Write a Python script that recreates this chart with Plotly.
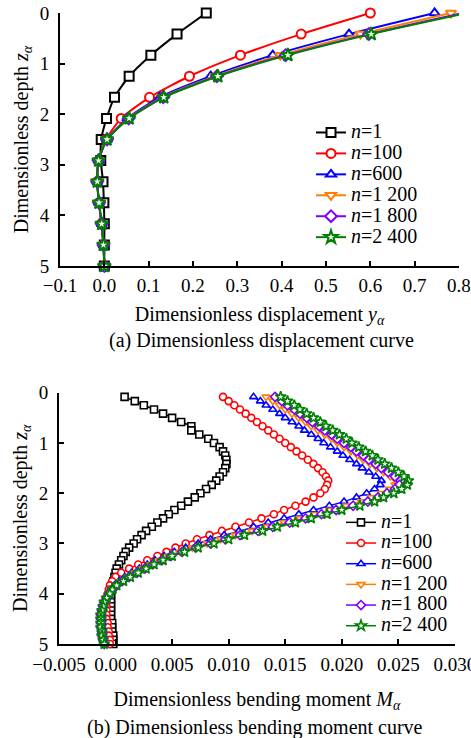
import plotly.graph_objects as go

# ---------------- data: (a) displacement ----------------
depth_a = [0.0, 0.417, 0.833, 1.25, 1.667, 2.083, 2.5, 2.917, 3.333, 3.75, 4.167, 4.583, 5.0]
disp_n1 = [0.230, 0.164, 0.105, 0.056, 0.023, 0.005, -0.007, -0.008, -0.003, -0.001, 0.000, 0.000, 0.000]
disp_n100 = [0.600, 0.444, 0.307, 0.192, 0.102, 0.038, 0.004, -0.012, -0.016, -0.012, -0.007, -0.002, 0.000]
disp_n600 = [0.745, 0.552, 0.380, 0.240, 0.125, 0.052, 0.006, -0.013, -0.016, -0.012, -0.006, -0.002, 0.000]
disp_n1200 = [0.782, 0.578, 0.397, 0.250, 0.131, 0.054, 0.006, -0.013, -0.016, -0.012, -0.006, -0.002, 0.000]
disp_n1800 = [0.809, 0.597, 0.409, 0.254, 0.133, 0.055, 0.006, -0.013, -0.016, -0.012, -0.006, -0.002, 0.000]
disp_n2400 = [0.819, 0.602, 0.414, 0.256, 0.134, 0.056, 0.006, -0.013, -0.016, -0.012, -0.006, -0.002, 0.000]

# ---------------- data: (b) bending moment ----------------
depth_b = [0.083, 0.167, 0.25, 0.333, 0.417, 0.5, 0.583, 0.667, 0.75, 0.833,
           0.917, 1.0, 1.083, 1.167, 1.25, 1.333, 1.417, 1.5, 1.583, 1.667,
           1.75, 1.833, 1.917, 2.0, 2.083, 2.167, 2.25, 2.333, 2.417, 2.5,
           2.583, 2.667, 2.75, 2.833, 2.917, 3.0, 3.083, 3.167, 3.25, 3.333,
           3.417, 3.5, 3.583, 3.667, 3.75, 3.833, 3.917, 4.0, 4.083, 4.167,
           4.25, 4.333, 4.417, 4.5, 4.583, 4.667, 4.75, 4.833, 4.917, 5.0]
mom_n1 = [0.0008, 0.0017, 0.0025, 0.0034, 0.0042, 0.0050, 0.0058, 0.0067, 0.0067, 0.0074,
          0.0082, 0.0087, 0.0092, 0.0095, 0.0097, 0.0098, 0.0098, 0.0097, 0.0095, 0.0092,
          0.0089, 0.0085, 0.0080, 0.0075, 0.0070, 0.0064, 0.0058, 0.0052, 0.0047, 0.0042,
          0.0037, 0.0032, 0.0027, 0.0023, 0.0019, 0.0016, 0.0012, 0.0009, 0.0007, 0.0005,
          0.0003, 0.0001, 0.0000, -0.0001, -0.0002, -0.0003, -0.0003, -0.0004, -0.0004, -0.0004,
          -0.0004, -0.0004, -0.0004, -0.0004, -0.0003, -0.0003, -0.0003, -0.0002, -0.0002, -0.0002]
mom_n100 = [0.0095, 0.0100, 0.0105, 0.0110, 0.0115, 0.0120, 0.0125, 0.0130, 0.0135, 0.0140,
            0.0145, 0.0150, 0.0155, 0.0160, 0.0165, 0.0170, 0.0175, 0.0179, 0.0183, 0.0186,
            0.0188, 0.0187, 0.0185, 0.0181, 0.0175, 0.0168, 0.0159, 0.0149, 0.0140, 0.0129,
            0.0118, 0.0106, 0.0094, 0.0083, 0.0072, 0.0062, 0.0053, 0.0045, 0.0037, 0.0028,
            0.0020, 0.0012, 0.0005, 0.0000, -0.0003, -0.0005, -0.0006, -0.0007, -0.0008, -0.0008,
            -0.0008, -0.0008, -0.0008, -0.0008, -0.0007, -0.0007, -0.0006, -0.0006, -0.0005, -0.0005]
mom_n600 = [0.0122, 0.0128, 0.0133, 0.0139, 0.0145, 0.0150, 0.0156, 0.0162, 0.0167, 0.0173,
            0.0179, 0.0184, 0.0190, 0.0196, 0.0201, 0.0207, 0.0213, 0.0218, 0.0224, 0.0230,
            0.0235, 0.0234, 0.0229, 0.0222, 0.0213, 0.0202, 0.0189, 0.0175, 0.0162, 0.0149,
            0.0135, 0.0122, 0.0109, 0.0096, 0.0084, 0.0073, 0.0062, 0.0052, 0.0043, 0.0035,
            0.0028, 0.0021, 0.0014, 0.0008, 0.0003, -0.0001, -0.0004, -0.0006, -0.0008, -0.0010,
            -0.0011, -0.0012, -0.0012, -0.0012, -0.0012, -0.0012, -0.0012, -0.0011, -0.0011, -0.0010]
mom_n1200 = [0.0133, 0.0139, 0.0145, 0.0150, 0.0156, 0.0162, 0.0168, 0.0173, 0.0179, 0.0185,
             0.0191, 0.0196, 0.0202, 0.0208, 0.0214, 0.0219, 0.0225, 0.0231, 0.0237, 0.0243,
             0.0248, 0.0247, 0.0242, 0.0235, 0.0226, 0.0217, 0.0204, 0.0189, 0.0176, 0.0163,
             0.0149, 0.0134, 0.0121, 0.0106, 0.0093, 0.0081, 0.0068, 0.0057, 0.0047, 0.0039,
             0.0031, 0.0024, 0.0017, 0.0011, 0.0005, 0.0000, -0.0004, -0.0006, -0.0008, -0.0010,
             -0.0011, -0.0012, -0.0013, -0.0013, -0.0013, -0.0013, -0.0012, -0.0012, -0.0011, -0.0010]
mom_n1800 = [0.0141, 0.0147, 0.0152, 0.0158, 0.0163, 0.0169, 0.0174, 0.0180, 0.0185, 0.0191,
             0.0196, 0.0202, 0.0208, 0.0213, 0.0219, 0.0224, 0.0230, 0.0235, 0.0241, 0.0247,
             0.0252, 0.0251, 0.0247, 0.0240, 0.0232, 0.0223, 0.0210, 0.0195, 0.0182, 0.0168,
             0.0154, 0.0139, 0.0126, 0.0110, 0.0097, 0.0084, 0.0071, 0.0059, 0.0049, 0.0041,
             0.0033, 0.0026, 0.0019, 0.0012, 0.0006, 0.0001, -0.0003, -0.0006, -0.0008, -0.0010,
             -0.0011, -0.0012, -0.0013, -0.0013, -0.0013, -0.0013, -0.0012, -0.0012, -0.0011, -0.0010]
mom_n2400 = [0.0146, 0.0152, 0.0158, 0.0163, 0.0169, 0.0175, 0.0181, 0.0186, 0.0192, 0.0198,
             0.0204, 0.0209, 0.0215, 0.0221, 0.0227, 0.0232, 0.0238, 0.0244, 0.0250, 0.0255,
             0.0259, 0.0258, 0.0253, 0.0246, 0.0237, 0.0229, 0.0216, 0.0200, 0.0187, 0.0173,
             0.0159, 0.0143, 0.0130, 0.0114, 0.0100, 0.0087, 0.0073, 0.0061, 0.0050, 0.0042,
             0.0034, 0.0027, 0.0020, 0.0013, 0.0007, 0.0001, -0.0003, -0.0005, -0.0008, -0.0010,
             -0.0011, -0.0012, -0.0013, -0.0013, -0.0013, -0.0013, -0.0012, -0.0012, -0.0011, -0.0010]

series_names = ["<i>n</i>=1", "<i>n</i>=100", "<i>n</i>=600",
                "<i>n</i>=1 200", "<i>n</i>=1 800", "<i>n</i>=2 400"]
colors = ["#000000", "#ff0000", "#0000ff", "#ff8000", "#8000ff", "#008000"]
symbols = ["square", "circle", "triangle-up", "triangle-down", "diamond", "star"]

disp_series = [disp_n1, disp_n100, disp_n600, disp_n1200, disp_n1800, disp_n2400]
mom_series = [mom_n1, mom_n100, mom_n600, mom_n1200, mom_n1800, mom_n2400]

FONT = "Liberation Serif, Times New Roman, serif"
W, H = 471, 738

fig = go.Figure()

for name, col, sym, vals in zip(series_names, colors, symbols, disp_series):
    fig.add_trace(go.Scatter(
        x=vals, y=depth_a, mode="lines+markers",
        name='<span style="font-size:20px">' + name + '</span>',
        line=dict(color=col, width=2, shape="spline", smoothing=0.6),
        marker=dict(symbol=sym, size=9 if sym != "star" else 10, color="white",
                    line=dict(color=col, width=2)),
        cliponaxis=False, xaxis="x", yaxis="y", legend="legend"))

for name, col, sym, vals in zip(series_names, colors, symbols, mom_series):
    fig.add_trace(go.Scatter(
        x=vals, y=depth_b, mode="lines+markers",
        name='<span style="font-size:20px">' + name + '</span>',
        line=dict(color=col, width=1.5),
        marker=dict(symbol=sym, size=7 if sym != "star" else 8, color="white",
                    line=dict(color=col, width=1.6)),
        cliponaxis=False, xaxis="x2", yaxis="y2", legend="legend2"))

def px_x(p):
    return p / W

def px_y(p):
    return 1 - p / H

axis_common = dict(showline=True, linecolor="black", linewidth=2, mirror=False,
                   ticks="inside", ticklen=5, tickwidth=2, tickcolor="black",
                   showgrid=False, zeroline=False, automargin=False,
                   ticklabeloverflow="allow",
                   tickfont=dict(family=FONT, size=19, color="black"))

fig.update_layout(
    width=W, height=H,
    margin=dict(l=0, r=0, t=0, b=0, autoexpand=False),
    paper_bgcolor="white", plot_bgcolor="white",
    font=dict(family=FONT, color="black"),
    xaxis=dict(domain=[px_x(60), px_x(459)], range=[-0.1, 0.8001], dtick=0.1,
               tickformat=".1f", anchor="y", ticklabelstandoff=1,
               title=dict(text="Dimensionless displacement <i>y</i><sub><i>α</i></sub>",
                          font=dict(family=FONT, size=20, color="black"), standoff=12),
               **axis_common),
    yaxis=dict(domain=[px_y(266), px_y(13)], range=[5, 0], dtick=1, anchor="x",
               ticklabelstandoff=5,
               title=dict(text="Dimensionless depth <i>z</i><sub><i>α</i></sub>",
                          font=dict(family=FONT, size=20, color="black"), standoff=6),
               **axis_common),
    xaxis2=dict(domain=[px_x(59), px_x(455)], range=[-0.005, 0.03001], dtick=0.005,
                tickformat=".3f", anchor="y2", ticklabelstandoff=2,
                title=dict(text="Dimensionless bending moment <i>M</i><sub><i>α</i></sub>",
                           font=dict(family=FONT, size=20, color="black"), standoff=18),
                **axis_common),
    yaxis2=dict(domain=[px_y(644), px_y(392.7)], range=[5, 0], dtick=1, anchor="x2",
                ticklabelstandoff=5,
                title=dict(text="Dimensionless depth <i>z</i><sub><i>α</i></sub>",
                           font=dict(family=FONT, size=20, color="black"), standoff=6),
                **axis_common),
    legend=dict(x=px_x(311), y=px_y(117), xanchor="left", yanchor="top",
                bgcolor="rgba(0,0,0,0)", borderwidth=0,
                font=dict(family=FONT, size=13.8, color="black"),
                itemwidth=30, tracegroupgap=0),
    legend2=dict(x=px_x(341), y=px_y(507), xanchor="left", yanchor="top",
                 bgcolor="rgba(0,0,0,0)", borderwidth=0,
                 font=dict(family=FONT, size=13.6, color="black"),
                 itemwidth=30, tracegroupgap=0),
    annotations=[
        dict(text="(a) Dimensionless displacement curve", xref="paper", yref="paper",
             x=px_x(261), y=px_y(340), xanchor="center", yanchor="middle",
             showarrow=False, font=dict(family=FONT, size=20, color="black")),
        dict(text="(b) Dimensionless bending moment curve", xref="paper", yref="paper",
             x=px_x(255), y=px_y(727), xanchor="center", yanchor="middle",
             showarrow=False, font=dict(family=FONT, size=20, color="black")),
    ],
)

fig.write_html("out.html")
